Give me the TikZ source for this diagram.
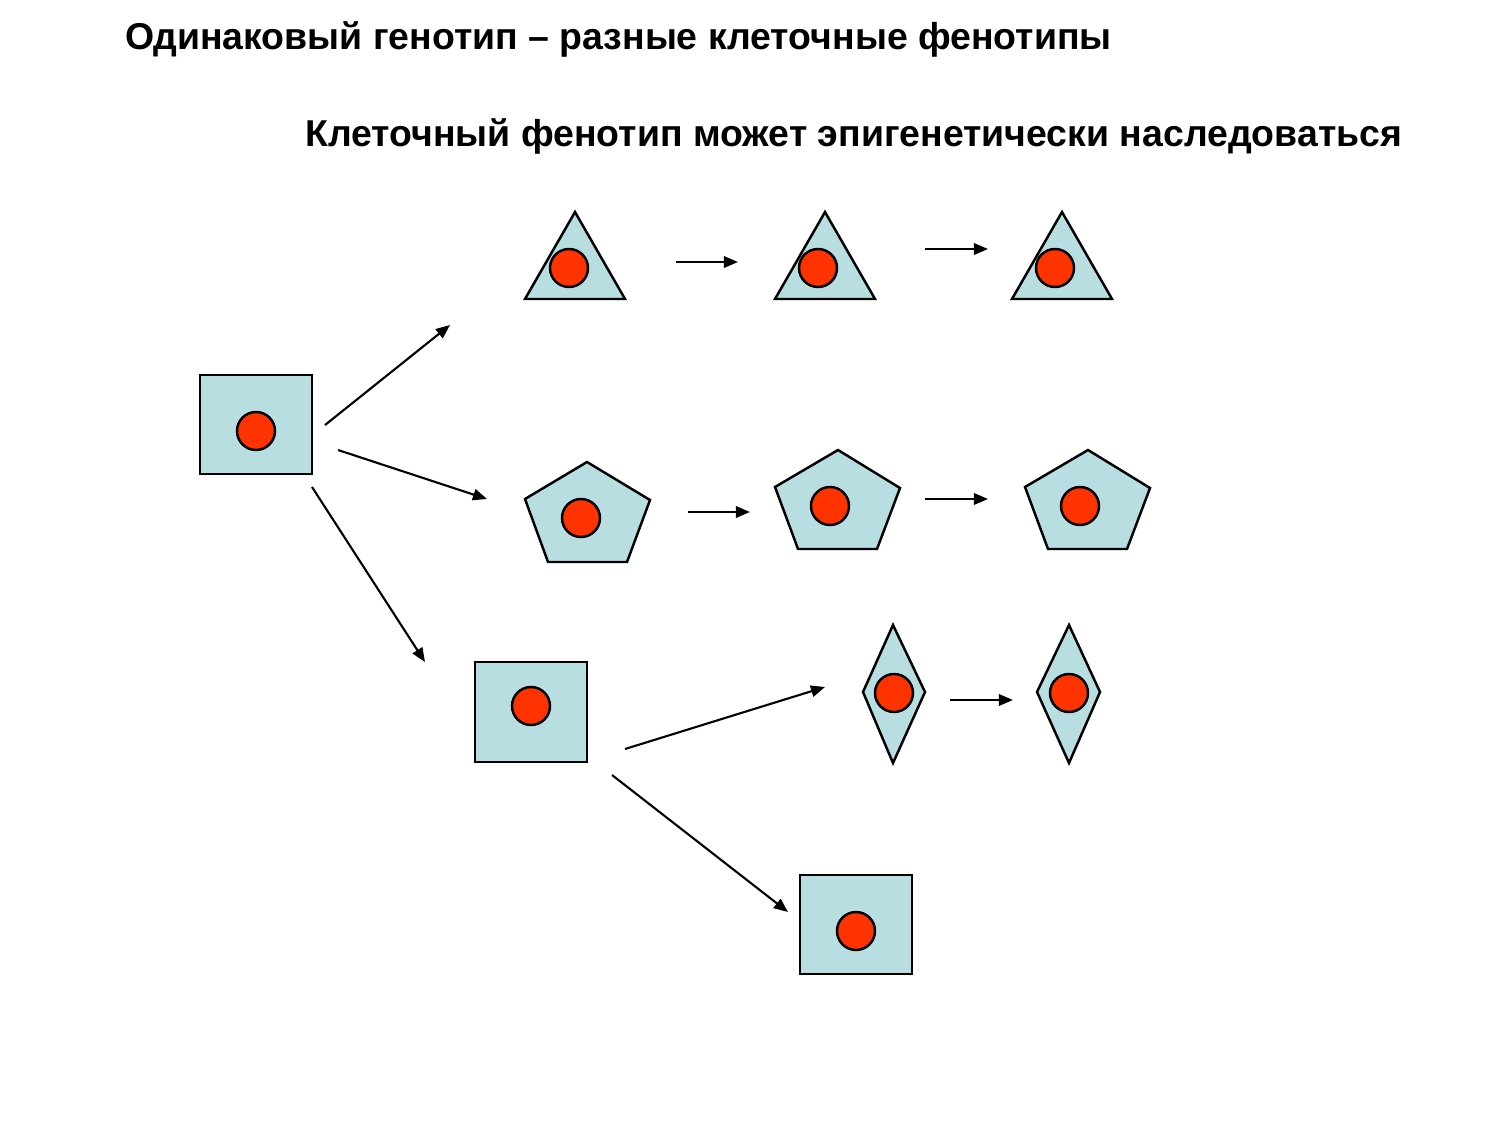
\documentclass[tikz,border=0pt]{standalone}
\usepackage{fontspec}
\setmainfont{Liberation Sans}
\usepackage{tikz}
\usetikzlibrary{arrows.meta}
\definecolor{cellblue}{RGB}{184,222,226}
\definecolor{nucred}{RGB}{255,51,0}
\tikzset{>={Triangle[length=8pt,width=6.5pt]}}
\tikzset{cell/.style={fill=cellblue,draw=black,line width=1.4pt,line join=miter},
  nucleus/.style={fill=nucred,draw=black,line width=1.4pt},
  arr/.style={->,line width=1.2pt},
  headline/.style={anchor=base west,font=\bfseries\fontsize{21.3}{25}\selectfont,inner sep=0pt}}

\begin{document}
\begin{tikzpicture} [x=0.02cm,y=-0.02cm]
\useasboundingbox (0,0) rectangle (1500,1125);
\node[headline] (title) at (125,50) {Одинаковый генотип – разные клеточные фенотипы};
\node[headline] (subtitle) at (305,147) {Клеточный фенотип может эпигенетически наследоваться};
% starting cell
\filldraw [cell] (200,375) rectangle (312,474);
\filldraw [nucleus] (256,431) circle (0.38cm);
% triangles
\filldraw [cell] (575,212)--(625,299)--(525,299)--cycle;
\filldraw [nucleus] (569,268) circle (0.38cm);
\filldraw [cell] (825,212)--(875,299)--(775,299)--cycle;
\filldraw [nucleus] (818,268) circle (0.38cm);
\filldraw [cell] (1062,212)--(1112,299)--(1012,299)--cycle;
\filldraw [nucleus] (1055,268) circle (0.38cm);
% pentagons
\filldraw [cell] (587,462)--(650,500)--(627,562)--(548,562)--(525,499)--cycle;
\filldraw [nucleus] (581,518) circle (0.38cm);
\filldraw [cell] (838,450)--(900,488)--(877,549)--(798,549)--(775,487)--cycle;
\filldraw [nucleus] (830,506) circle (0.38cm);
\filldraw [cell] (1088,450)--(1150,488)--(1127,549)--(1048,549)--(1025,487)--cycle;
\filldraw [nucleus] (1080,506) circle (0.38cm);
% second square
\filldraw [cell] (475,662) rectangle (587,762);
\filldraw [nucleus] (531,706) circle (0.38cm);
% diamonds
\filldraw [cell] (893,625)--(925,692)--(893,763)--(863,692)--cycle;
\filldraw [nucleus] (894,693) circle (0.38cm);
\filldraw [cell] (1069,625)--(1100,692)--(1069,763)--(1037,692)--cycle;
\filldraw [nucleus] (1069,693) circle (0.38cm);
% last square
\filldraw [cell] (800,875) rectangle (912,974);
\filldraw [nucleus] (856,931) circle (0.38cm);
% arrow ends
\coordinate (a1) at (325,425); \coordinate (b1) at (450,325);
\coordinate (a2) at (338,450); \coordinate (b2) at (487,499);
\coordinate (a3) at (312,487); \coordinate (b3) at (425,662);
\coordinate (a4) at (676,262); \coordinate (b4) at (738,262);
\coordinate (a5) at (925,249); \coordinate (b5) at (988,249);
\coordinate (a6) at (688,512); \coordinate (b6) at (750,512);
\coordinate (a7) at (925,499); \coordinate (b7) at (988,499);
\coordinate (a8) at (625,749); \coordinate (b8) at (825,687);
\coordinate (a9) at (612,775); \coordinate (b9) at (788,912);
\coordinate (a10) at (950,700); \coordinate (b10) at (1013,700);
\foreach \i in {1,...,10}
  \draw [arr] (a\i)--(b\i);
\end{tikzpicture}
\end{document}
